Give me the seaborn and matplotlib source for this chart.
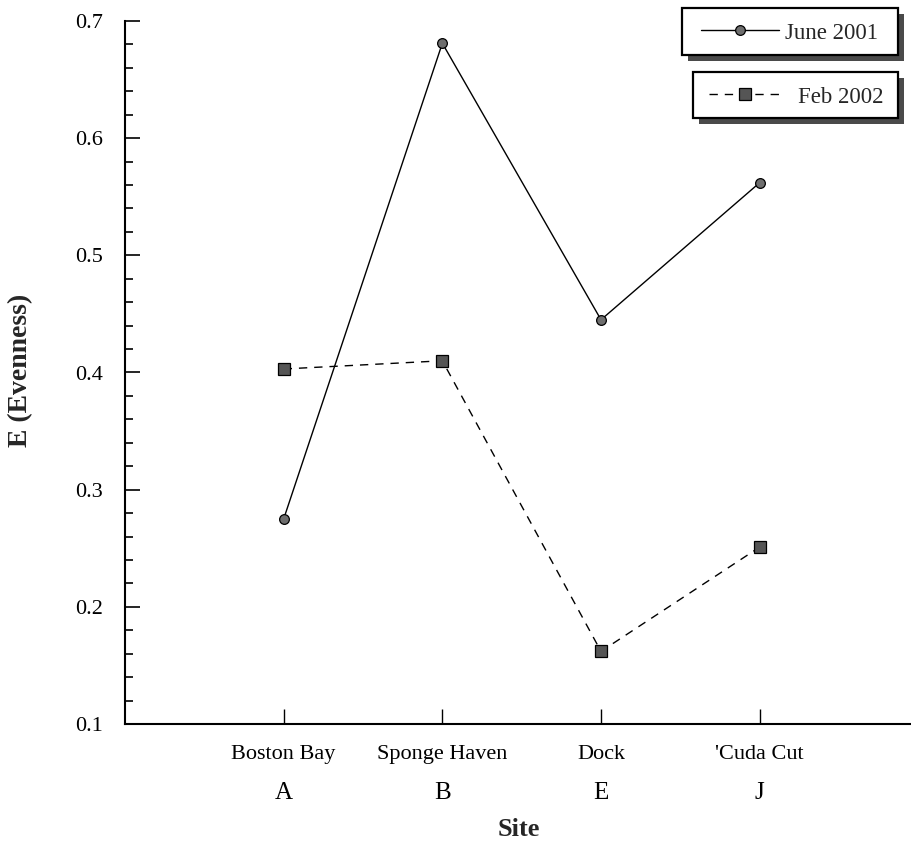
import numpy as np
import pandas as pd
import matplotlib
matplotlib.use("Agg")
import matplotlib.pyplot as plt
import seaborn as sns
from matplotlib.patches import Rectangle
from matplotlib.ticker import MultipleLocator
from matplotlib.lines import Line2D

# ---- data ----
sites = ["Boston Bay", "Sponge Haven", "Dock", "'Cuda Cut"]
site_codes = ["A", "B", "E", "J"]
june_2001 = [0.275, 0.681, 0.445, 0.562]
feb_2002 = [0.403, 0.410, 0.162, 0.251]
series_names = ["June 2001", "Feb 2002"]
y_ticks = [0.1, 0.2, 0.3, 0.4, 0.5, 0.6, 0.7]

sns.set_theme(style="ticks")
plt.rcParams["font.family"] = ["Liberation Serif", "DejaVu Serif"]

W, H = 912, 847
fig = plt.figure(figsize=(W / 100, H / 100), dpi=100)
fig.patch.set_facecolor("white")

ax_left, ax_top, ax_bottom = 125, 21, 724
ax = fig.add_axes([ax_left / W, (H - ax_bottom) / H, 1 - ax_left / W, (ax_bottom - ax_top) / H])
ax.set_facecolor("white")

pos = np.arange(len(sites))
df = pd.DataFrame({"pos": pos, series_names[0]: june_2001, series_names[1]: feb_2002})

june_style = dict(color="black", linewidth=1.0, marker="o", markersize=7,
                  markerfacecolor="#6e6e6e", markeredgecolor="black", markeredgewidth=0.9)
feb_style = dict(color="black", linewidth=1.0, linestyle=(0, (6, 5)), marker="s", markersize=8,
                 markerfacecolor="#555555", markeredgecolor="black", markeredgewidth=0.9)

sns.lineplot(data=df, x="pos", y=series_names[0], ax=ax, **june_style)
sns.lineplot(data=df, x="pos", y=series_names[1], ax=ax, **feb_style)
if ax.get_legend() is not None:
    ax.get_legend().remove()

ax.set_xlim(-1, 3.96)
ax.set_ylim(0.1, 0.7)

ax.set_yticks(y_ticks, [f"{v:.1f}" for v in y_ticks])
ax.yaxis.set_minor_locator(MultipleLocator(0.02))
ax.tick_params(axis="y", which="major", direction="in", length=11, width=1.2,
               pad=16, labelsize=16, colors="black")
ax.tick_params(axis="y", which="minor", direction="in", length=6, width=1.2, colors="black")

ax.xaxis.remove_overlapping_locs = False
ax.set_xticks(pos, sites)
ax.set_xticks(pos, site_codes, minor=True)
ax.tick_params(axis="x", which="major", direction="in", length=11, width=1.0,
               pad=15, labelsize=16, colors="black")
ax.tick_params(axis="x", which="minor", length=0, pad=42, labelsize=18, colors="black")

ax.set_xlabel("")
ax.set_ylabel("")
for s in ["top", "right"]:
    ax.spines[s].set_visible(False)
for s in ["left", "bottom"]:
    ax.spines[s].set_linewidth(1.5)
    ax.spines[s].set_color("black")

fig.text(21 / W, 1 - 370 / H, "E (Evenness)", rotation=90, ha="center", va="center",
         fontsize=20, fontweight="bold")
fig.text(519 / W, 1 - 829 / H, "Site", ha="center", va="center",
         fontsize=19, fontweight="bold")

# ---- legends (two separate boxes with drop shadows) ----
def box(x0, y0, x1, y1, off=6):
    sh = Rectangle(((x0 + off) / W, 1 - (y1 + off) / H), (x1 - x0) / W, (y1 - y0) / H,
                   transform=fig.transFigure, facecolor="#4a4a4a", edgecolor="none", zorder=2)
    fr = Rectangle((x0 / W, 1 - y1 / H), (x1 - x0) / W, (y1 - y0) / H,
                   transform=fig.transFigure, facecolor="white", edgecolor="black",
                   linewidth=1.6, zorder=3)
    fig.add_artist(sh)
    fig.add_artist(fr)

box(682, 8, 898, 55)
box(693, 72, 898, 118)

h1 = Line2D([], [], **june_style)
h2 = Line2D([], [], **feb_style)
fs = 16.5
fig.legend([h1], [series_names[0]], loc="center left", bbox_to_anchor=(701 / W, 1 - 33 / H),
           frameon=False, borderpad=0, borderaxespad=0, handlelength=3.4, handletextpad=0.25,
           fontsize=fs)
fig.legend([h2], [series_names[1]], loc="center left", bbox_to_anchor=(709 / W, 1 - 97 / H),
           frameon=False, borderpad=0, borderaxespad=0, handlelength=3.1, handletextpad=0.8,
           fontsize=fs)

fig.savefig("out.png", dpi=100, facecolor="white")
